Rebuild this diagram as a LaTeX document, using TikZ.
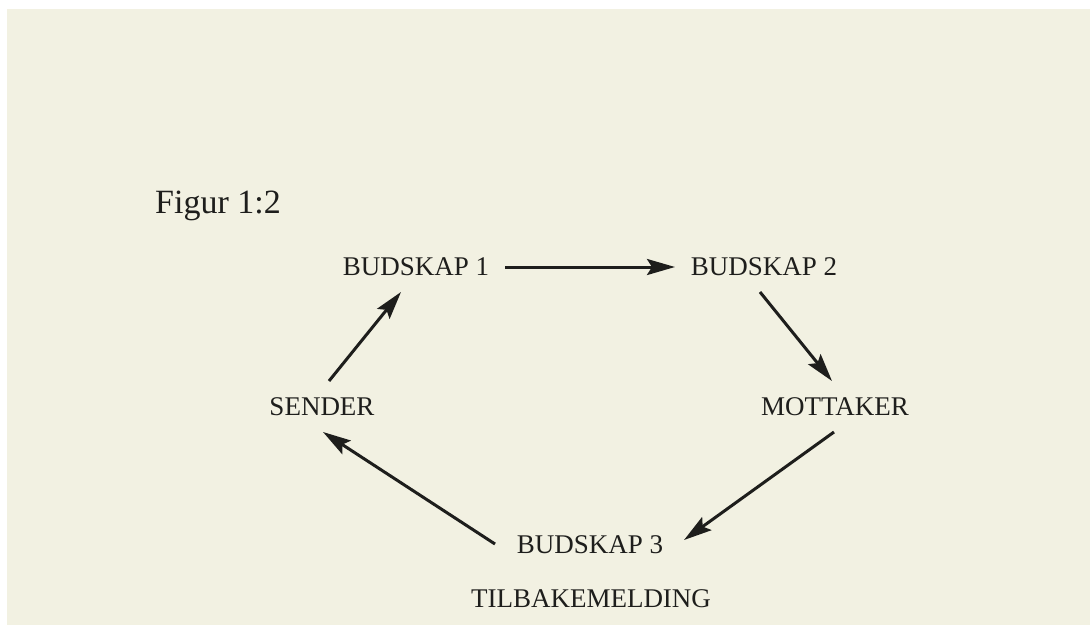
\documentclass[tikz,border=0pt]{standalone}
\usepackage{fontspec}
\setmainfont{Liberation Serif}
\usetikzlibrary{arrows.meta}
\definecolor{paper}{RGB}{242,241,226}
\definecolor{ink}{RGB}{30,30,28}
\begin{document}
\begin{tikzpicture}[x=1pt,y=-1pt,
  lbl/.style={anchor=base,inner sep=0pt,text=ink,font=\fontsize{27}{31}\selectfont},
  arr/.style={draw=ink,line width=3pt,-{Stealth[length=28pt,width=16pt,inset=5pt]}}]
\useasboundingbox (0,0) rectangle (1090,625);
\fill[white] (0,0) rectangle (1090,625);
\fill[paper] (7,9) rectangle (1090,625);
\node[anchor=base west,inner sep=0pt,text=ink,font=\fontsize{34}{38}\selectfont] (fig) at (155,213) {Figur 1:2};
\node[lbl] (b1) at (416,275) {BUDSKAP 1};
\node[lbl] (b2) at (764,275) {BUDSKAP 2};
\node[lbl] (sender) at (322,415) {SENDER};
\node[lbl] (mott) at (835,415) {MOTTAKER};
\node[lbl] (b3) at (590,553) {BUDSKAP 3};
\node[lbl] (tilb) at (591,607) {TILBAKEMELDING};
\draw[arr] ([shift={(89,-8)}]b1.base) -- ([shift={(-89,-8)}]b2.base);
\draw[arr] ([shift={(-4,17)}]b2.base) -- ([shift={(-3,-34)}]mott.base);
\draw[arr] ([shift={(-1,17)}]mott.base) -- ([shift={(94,-13)}]b3.base);
\draw[arr] ([shift={(-95,-9)}]b3.base) -- ([shift={(1,17)}]sender.base);
\draw[arr] ([shift={(7,-34)}]sender.base) -- ([shift={(-15,17)}]b1.base);
\end{tikzpicture}
\end{document}
